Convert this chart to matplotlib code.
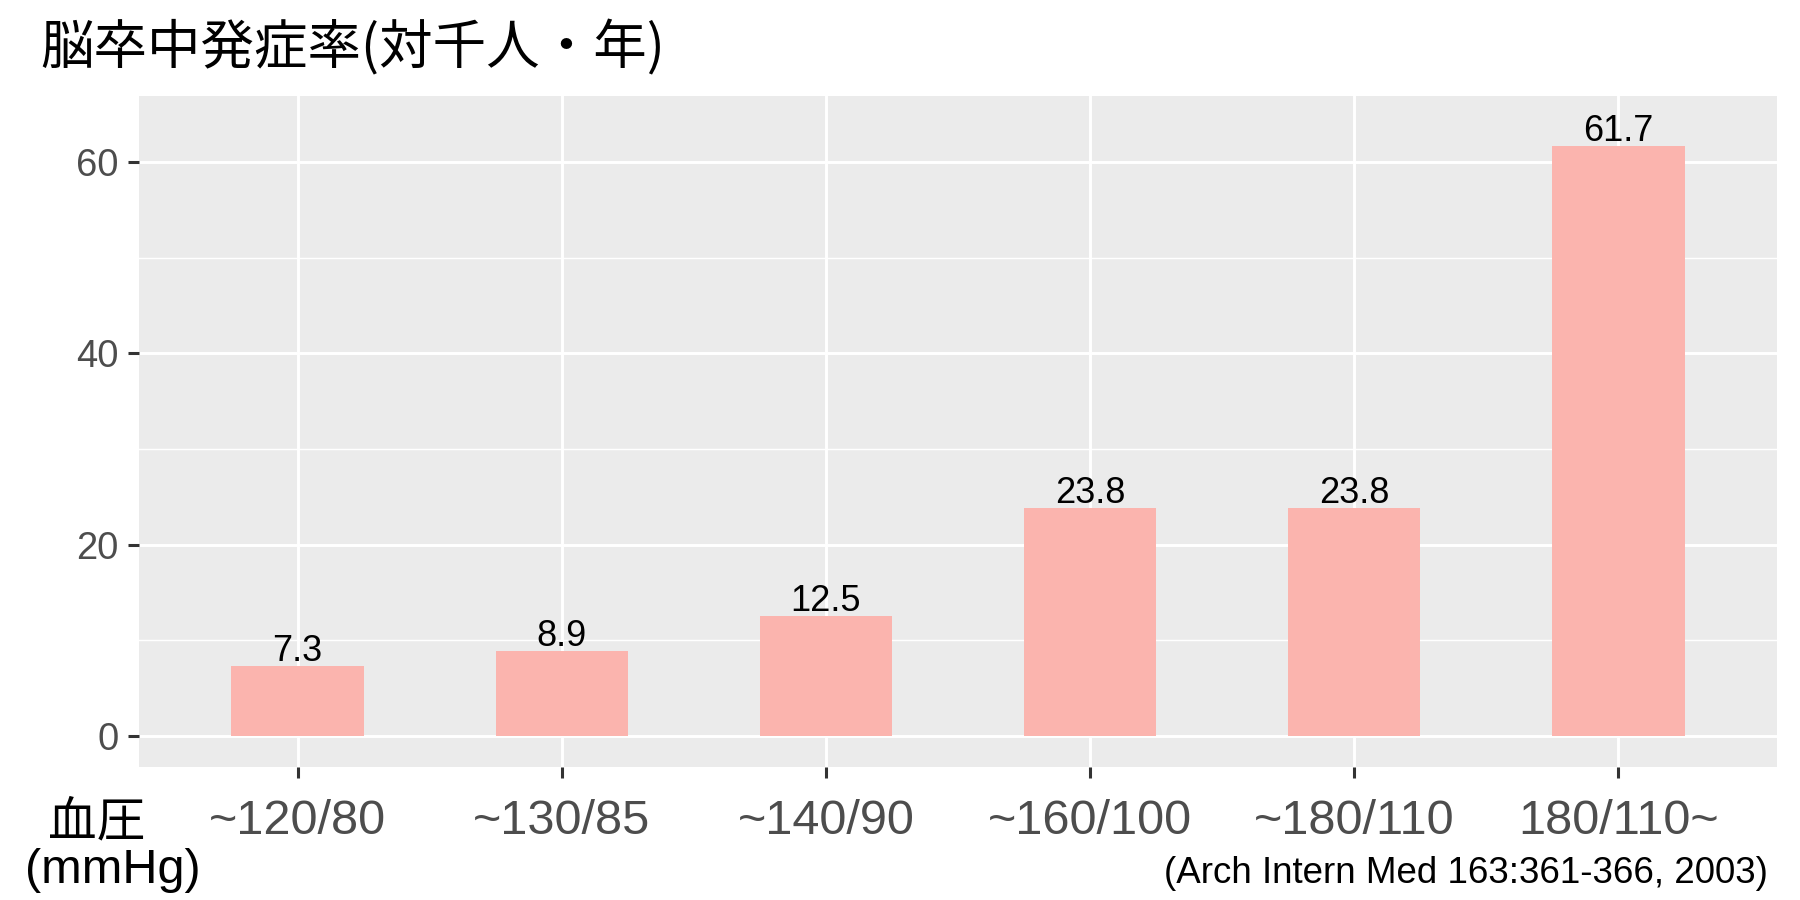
import matplotlib
matplotlib.use("Agg")
import matplotlib.pyplot as plt
from matplotlib.ticker import FixedLocator

# ---- data ----
categories = ["~120/80", "~130/85", "~140/90", "~160/100", "~180/110", "180/110~"]
rates = [7.3, 8.9, 12.5, 23.8, 23.8, 61.7]
y_major = [0, 20, 40, 60]
y_minor = [10, 30, 50]
title = "脳卒中発症率(対千人・年)"
xlabel_top = "血圧"
xlabel_bottom = "(mmHg)"
caption = "(Arch Intern Med 163:361-366, 2003)"

W, H = 1800, 900
fig = plt.figure(figsize=(18, 9), dpi=100)
fig.patch.set_facecolor("white")

L, R, T, B = 139, 1777, 96, 767
ax = fig.add_axes([L / W, (H - B) / H, (R - L) / W, (B - T) / H])
ax.set_facecolor("#EBEBEB")

xs = list(range(1, len(categories) + 1))
ax.bar(xs, rates, width=0.5, color="#FBB4AE", zorder=3)

for x, v in zip(xs, rates):
    ax.annotate(f"{v}", (x, v), xytext=(0, 3.6), textcoords="offset points",
                ha="center", va="baseline", fontsize=26,
                family="Liberation Sans", color="black", zorder=4)

ax.set_xlim(0.4, 6.6)
ax.set_ylim(-3.24, 66.9)

ax.set_xticks(xs)
ax.set_xticklabels(categories, family="Liberation Sans", fontsize=35, color="#4D4D4D")
ax.set_yticks(y_major)
ax.set_yticklabels([str(v) for v in y_major], family="Liberation Sans", fontsize=27.5, color="#4D4D4D")
ax.yaxis.set_minor_locator(FixedLocator(y_minor))

ax.tick_params(axis="both", which="major", length=11 / 100 * 72, width=2.2,
               color="#333333")
ax.tick_params(axis="x", which="major", pad=15)
ax.tick_params(axis="y", which="major", pad=7)
ax.tick_params(axis="y", which="minor", length=0)

ax.grid(True, which="major", axis="both", color="white", linewidth=2.1, zorder=1)
ax.grid(True, which="minor", axis="y", color="white", linewidth=1.05, zorder=1)
ax.set_axisbelow(True)
for s in ax.spines.values():
    s.set_visible(False)

fig.text(40 / W, 1 - 48 / H, title, ha="left", va="center", fontsize=38.5,
         family=["Noto Sans CJK JP", "Liberation Sans"], color="black")

fig.text(97 / W, 1 - 823 / H, xlabel_top, ha="center", va="center", fontsize=35,
         family=["Noto Sans CJK JP", "Liberation Sans"], color="black")
fig.text(113 / W, 1 - 883 / H, xlabel_bottom, ha="center", va="baseline", fontsize=35,
         family="Liberation Sans", color="black")

fig.text(1768 / W, 1 - 883 / H, caption, ha="right", va="baseline", fontsize=26.5,
         family="Liberation Sans", color="black")

fig.savefig("out.png", dpi=100)
